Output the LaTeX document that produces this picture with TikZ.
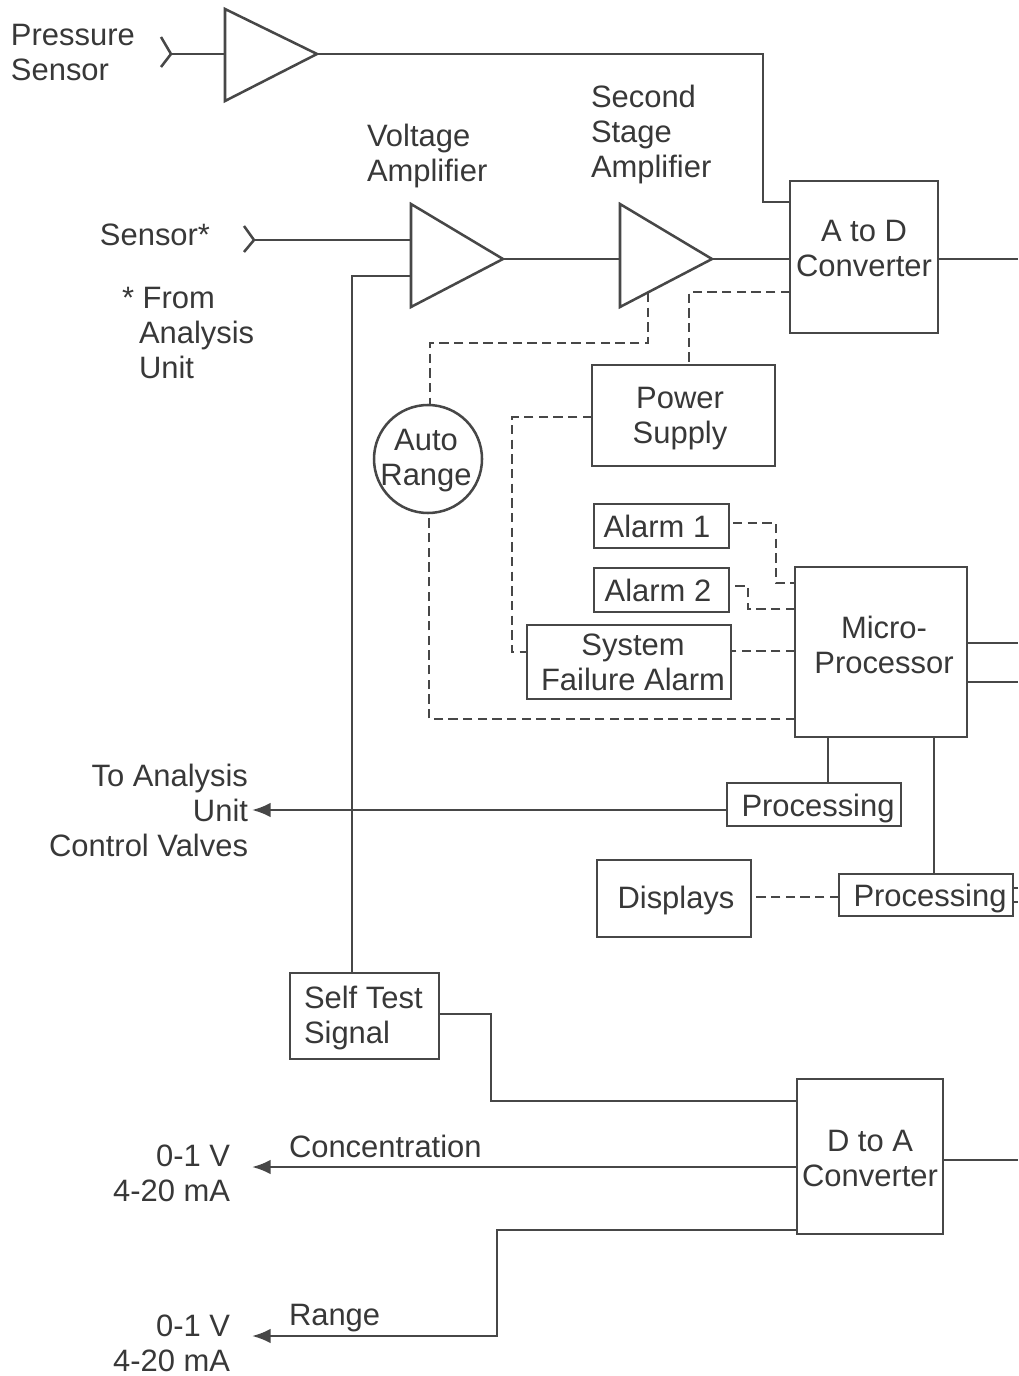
\documentclass[tikz,border=0pt]{standalone}
\usepackage{fontspec}
\setmainfont{Liberation Sans}
\usetikzlibrary{arrows.meta}
\definecolor{ink}{gray}{0.28}
\definecolor{txt}{gray}{0.22}
\tikzset{
  lbl/.style={inner sep=0pt,outer sep=0pt,text=txt,font=\fontsize{23.2}{26.25}\selectfont},
  boxn/.style={draw=ink,line width=1.9pt,inner sep=0pt,outer sep=0pt,fill=white},
  wire/.style={draw=ink,line width=1.9pt,line join=miter},
  dwire/.style={draw=ink,line width=1.7pt,dash pattern=on 7pt off 4pt},
  arrowwire/.style={wire,-{Latex[length=14pt,width=11pt]}},
}
\begin{document}
\begin{tikzpicture}[x=0.75pt,y=-0.75pt]
\useasboundingbox (0,0) rectangle (1018,1376);
% amplifiers
\coordinate (t1a) at (225,9); \coordinate (t1b) at (225,101); \coordinate (t1o) at (317,54);
\coordinate (t2a) at (411,204); \coordinate (t2b) at (411,307); \coordinate (t2o) at (503,259);
\coordinate (t3a) at (620,204); \coordinate (t3b) at (620,307); \coordinate (t3o) at (712,259);
% boxes
\node[boxn,minimum width=111pt,minimum height=114pt] (ad) at (864,257) {};
\node[boxn,minimum width=137.25pt,minimum height=75.75pt] (ps) at (683.5,415.5) {};
\node[boxn,circle,minimum size=81pt] (ar) at (428,459) {};
\node[boxn,minimum width=101.25pt,minimum height=33pt] (a1) at (661.5,526) {};
\node[boxn,minimum width=101.25pt,minimum height=33pt] (a2) at (661.5,590) {};
\node[boxn,minimum width=153pt,minimum height=55.5pt] (sf) at (629,662) {};
\node[boxn,minimum width=129pt,minimum height=127.5pt] (mp) at (881,652) {};
\node[boxn,minimum width=130.5pt,minimum height=32.25pt] (p1) at (814,804.5) {};
\node[boxn,minimum width=115.5pt,minimum height=57.75pt] (dp) at (674,898.5) {};
\node[boxn,minimum width=130.5pt,minimum height=31.5pt] (p2) at (926,895) {};
\node[boxn,minimum width=111.75pt,minimum height=64.5pt] (st) at (364.5,1016) {};
\node[boxn,minimum width=109.5pt,minimum height=116.25pt] (da) at (870,1156.5) {};
% free ends
\coordinate (chev1) at (171,54);
\coordinate (chev2) at (254,240);
\coordinate (e1) at (1018,259);
\coordinate (e2) at (1018,643);
\coordinate (e3) at (1018,682);
\coordinate (e4) at (1018,1160);
\coordinate (e5) at (1018,888);
\coordinate (e6) at (1018,902);
\coordinate (aa) at (252,810);
\coordinate (ac) at (252,1167);
\coordinate (ar2) at (252,1336);
% chevrons
\draw[wire] (161,37) -- (chev1) -- (161,67);
\draw[wire] (244,226) -- (chev2) -- (244,252);
% solid wires
\draw[wire] (chev1) -- (225,54);
\draw[wire] (t1o) -- (763,54) -- (763,202) -- (790,202);
\draw[wire] (chev2) -- (411,240);
\draw[wire] (t2o) -- (620,259);
\draw[wire] (t3o) -- (790,259);
\draw[wire] (352,973) -- (352,276) -- (411,276);
\draw[wire] (ad.east |- e1) -- (e1);
\draw[wire] (mp.east |- e2) -- (e2);
\draw[wire] (mp.east |- e3) -- (e3);
\draw[wire] (da.east |- e4) -- (e4);
\draw[wire] (828,737) -- (828,783);
\draw[wire] (934,737) -- (934,874);
\draw[wire] (p2.east |- e5) -- (e5);
\draw[wire] (p2.east |- e6) -- (e6);
\draw[arrowwire] (p1.west |- aa) -- (aa);
\draw[wire] (st.east |- 0,1014) -- (491,1014) -- (491,1101) -- (da.west |- 0,1101);
\draw[arrowwire] (da.west |- ac) -- (ac);
\draw[arrowwire] (da.west |- 0,1230) -- (497,1230) -- (497,1336) -- (ar2);
% dashed wires
\draw[dwire] (648,293) -- (648,343) -- (430,343) -- (ar.north -| 430,0);
\draw[dwire] (790,292) -- (689,292) -- (ps.north -| 689,0);
\draw[dwire] (ps.west |- 0,417) -- (512,417) -- (512,652) -- (sf.west |- 0,652);
\draw[dwire] (mp.west |- 0,719) -- (429,719) -- (429,513);
\draw[dwire] (733,523) -- (776,523) -- (776,583) -- (mp.west |- 0,583);
\draw[dwire] (mp.west |- 0,609) -- (748,609) -- (748,586) -- (733,586);
\draw[dwire] (mp.west |- 0,651) -- (sf.east |- 0,651);
\draw[dwire] (p2.west |- 0,897) -- (755,897);
% triangles
\draw[boxn,line join=miter] (t1a) -- (t1o) -- (t1b) -- cycle;
\draw[boxn,line join=miter] (t2a) -- (t2o) -- (t2b) -- cycle;
\draw[boxn,line join=miter] (t3a) -- (t3o) -- (t3b) -- cycle;
% labels
\node[lbl,anchor=west,align=left] (lps) at (11,52.5) {Pressure\\Sensor};
\node[lbl] (ls) at (155,235) {Sensor*};
\node[lbl,anchor=west,align=left] (lfa) at (122,333) {* From\\\hspace*{12.75pt}Analysis\\\hspace*{12.75pt}Unit};
\node[lbl,anchor=west,align=left] (lva) at (367,156.5) {Voltage\\Amplifier};
\node[lbl,anchor=west,align=left] (lss) at (591,134.5) {Second\\Stage\\Amplifier};
\node[lbl,align=center] (tad) at (864,249) {A to D\\Converter};
\node[lbl,align=center] (tps) at (680,418.5) {Power\\Supply};
\node[lbl,align=center] (tar) at (426,461) {Auto\\Range};
\node[lbl] (ta1) at (657,526) {Alarm 1};
\node[lbl] (ta2) at (658,590) {Alarm 2};
\node[lbl,align=center] (tsf) at (633,662) {System\\Failure Alarm};
\node[lbl,align=center] (tmp) at (884,645) {Micro-\\Processor};
\node[lbl] (tp1) at (818,808) {Processing};
\node[lbl] (tdp) at (676,900) {Displays};
\node[lbl] (tp2) at (930,898) {Processing};
\node[lbl,anchor=west,align=left] (tst) at (304,1017.5) {Self Test\\Signal};
\node[lbl,align=center] (tda) at (870,1158.5) {D to A\\Converter};
\node[lbl,anchor=east,align=right] (lau) at (248,810) {To Analysis\\Unit\\Control Valves};
\node[lbl,anchor=east,align=right] (lv1) at (230,1173.5) {0-1 V\\4-20 mA};
\node[lbl,anchor=east,align=right] (lv2) at (230,1343.5) {0-1 V\\4-20 mA};
\node[lbl,anchor=west] (lc) at (289,1146) {Concentration};
\node[lbl,anchor=west] (lr) at (289,1318) {Range};
\end{tikzpicture}
\end{document}
